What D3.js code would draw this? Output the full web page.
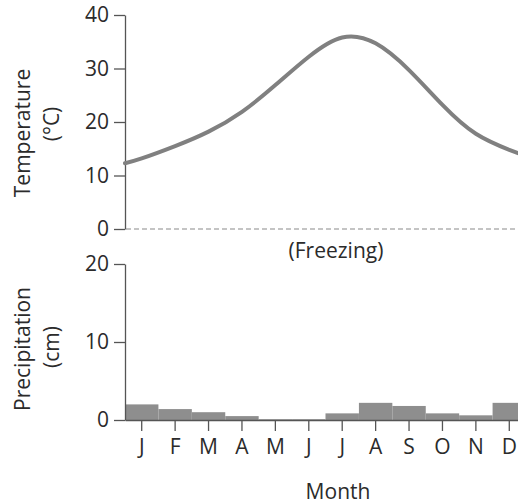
<!DOCTYPE html>
<html><head><meta charset="utf-8">
<script src="https://cdn.jsdelivr.net/npm/d3@7"></script>
<style>body{margin:0;background:#fff}svg{display:block}text{font-family:"Open Sans",sans-serif;fill:#2b2b2b}</style>
</head><body>
<svg id="c" width="518" height="504"></svg>
<script>
const months = ["J","F","M","A","M","J","J","A","S","O","N","D"];
// temperature (°C) at month centres
const temps = [13.2,15.5,18.2,21.9,26.9,32.2,35.8,34.7,29.7,23.2,17.8,14.8];
// temperature at start of Jan and end of Dec
const tempStart = 12.3, tempEnd = 13.6;
// precipitation (cm)
const precip = [2.0,1.4,1.0,0.5,0.1,0.1,0.85,2.2,1.8,0.85,0.6,2.2];
const tTicks = [0,10,20,30,40];
const pTicks = [0,10,20];

const svg = d3.select("#c");
const x0 = 125, x1 = 526;
const xb = d3.scaleBand().domain(d3.range(12)).range([x0,x1]).padding(0);
const xl = d3.scaleLinear().domain([0,12]).range([x0,x1]);
const yT = d3.scaleLinear().domain([0,40]).range([229,15]);
const yP = d3.scaleLinear().domain([0,20]).range([420,264]);
const axisCol = "#555";
const fs = 21;

// top chart
const gT = svg.append("g");
const aT = gT.append("g").attr("transform",`translate(${x0},0)`)
  .call(d3.axisLeft(yT).tickValues(tTicks).tickSize(11).tickPadding(5).tickSizeOuter(0));
aT.select(".domain").attr("stroke",axisCol).attr("stroke-width",1.3);
aT.selectAll(".tick line").attr("stroke",axisCol).attr("stroke-width",1.3);
aT.selectAll(".tick text").attr("font-size",fs).attr("fill","#2b2b2b").style("font-family","'Open Sans',sans-serif");

gT.append("line").attr("x1",x0+1).attr("x2",518).attr("y1",yT(0)).attr("y2",yT(0))
  .attr("stroke","#8a8a8a").attr("stroke-width",1.2).attr("stroke-dasharray","5,3");

const pts = [[0,tempStart]].concat(temps.map((t,i)=>[i+0.5,t])).concat([[12,tempEnd]]);
gT.append("path").datum(pts)
  .attr("d",d3.line().x(d=>xl(d[0])).y(d=>yT(d[1])).curve(d3.curveNatural))
  .attr("fill","none").attr("stroke","#808080").attr("stroke-width",4).attr("stroke-linecap","round");

gT.append("text").attr("x",336).attr("y",258).attr("text-anchor","middle").attr("font-size",fs).text("(Freezing)");

gT.append("text").attr("transform","translate(30,133) rotate(-90)").attr("text-anchor","middle").attr("font-size",fs).text("Temperature");
gT.append("text").attr("transform","translate(59,124) rotate(-90)").attr("text-anchor","middle").attr("font-size",fs).text("(°C)");

// bottom chart
const gP = svg.append("g");
gP.selectAll("rect.bar").data(precip).join("rect").attr("class","bar")
  .attr("x",(d,i)=>xb(i)).attr("width",xb.bandwidth())
  .attr("y",d=>yP(d)).attr("height",d=>yP(0)-yP(d))
  .attr("fill","#8e8e8e");

const aP = gP.append("g").attr("transform",`translate(${x0},0)`)
  .call(d3.axisLeft(yP).tickValues(pTicks).tickSize(11).tickPadding(5).tickSizeOuter(0));
aP.select(".domain").attr("stroke",axisCol).attr("stroke-width",1.3);
aP.selectAll(".tick line").attr("stroke",axisCol).attr("stroke-width",1.3);
aP.selectAll(".tick text").attr("font-size",fs).attr("fill","#2b2b2b").style("font-family","'Open Sans',sans-serif");

const xAxis = d3.axisBottom(xb).tickFormat(i=>months[i]).tickSize(11).tickPadding(8).tickSizeOuter(0);
const aX = gP.append("g").attr("transform",`translate(0,${yP(0)})`).call(xAxis);
aX.select(".domain").attr("stroke",axisCol).attr("stroke-width",1.3);
aX.selectAll(".tick line").attr("stroke",axisCol).attr("stroke-width",1.3);
aX.selectAll(".tick text").attr("font-size",fs).attr("fill","#2b2b2b").style("font-family","'Open Sans',sans-serif");

gP.append("text").attr("transform","translate(30,349) rotate(-90)").attr("text-anchor","middle").attr("font-size",fs).text("Precipitation");
gP.append("text").attr("transform","translate(59,347) rotate(-90)").attr("text-anchor","middle").attr("font-size",fs).text("(cm)");

svg.append("text").attr("x",338).attr("y",499).attr("text-anchor","middle").attr("font-size",fs).text("Month");
</script>
</body></html>
